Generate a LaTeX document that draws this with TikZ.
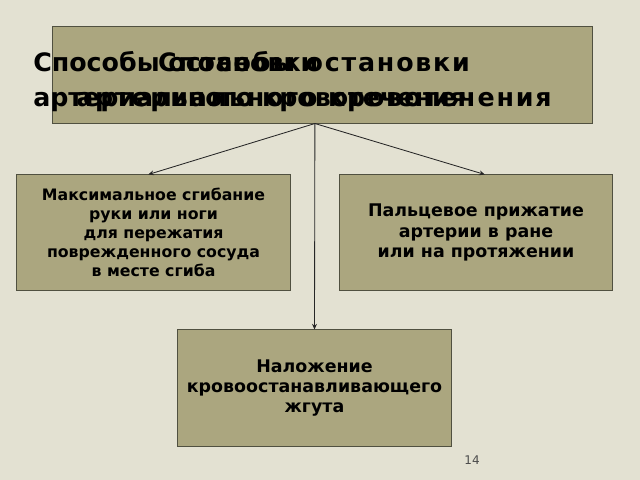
\documentclass[tikz,border=0pt]{standalone}
\usepackage{fontspec}
\setmainfont{DejaVu Sans}
\newfontfamily\spacedfont[LetterSpace=7]{DejaVu Sans}
\usetikzlibrary{arrows.meta}
\definecolor{slidebg}{RGB}{227,225,210}
\definecolor{boxfill}{RGB}{171,166,127}
\definecolor{boxline}{RGB}{80,80,64}
\begin{document}
\begin{tikzpicture}[x=0.025cm, y=-0.025cm,
        block/.style={draw=boxline, line width=0.7pt, fill=boxfill, align=center, inner sep=0pt},
        heading/.style={inner sep=0pt, font=\fontsize{18}{24.9}\selectfont\bfseries},
        link/.style={-{Stealth[length=4pt, width=3.5pt]}, line width=0.6pt, black!85}]
        \useasboundingbox [fill=slidebg] (0,0) rectangle (640,480);
        \node [block, minimum width=13.475cm, minimum height=2.4cm] (title) at (322.5,75) {};
        % the slide prints its heading twice, shifted
        \node [heading, anchor=north west, align=left] (titleA) at (33,51) {Способы остановки\\артериального кровотечения};
        \node [heading, anchor=north, align=center, font=\spacedfont\fontsize{18}{24.9}\selectfont\bfseries] (titleB) at (314,51) {Способы остановки\\артериального кровотечения};
        \node [block, minimum width=6.825cm, minimum height=2.875cm, font=\fontsize{11.2}{13.5}\selectfont\bfseries] (left) at (153.5,232.5) {Максимальное сгибание\\руки или ноги\\для пережатия\\поврежденного сосуда\\в месте сгиба};
        \node [block, minimum width=6.8cm, minimum height=2.875cm, font=\fontsize{12.4}{14.6}\selectfont\bfseries] (right) at (476,232.5) {Пальцевое прижатие\\артерии в ране\\или на протяжении};
        \node [block, minimum width=6.825cm, minimum height=2.9cm, font=\fontsize{12.4}{14.5}\selectfont\bfseries] (bottom) at (314.5,388) {Наложение\\кровоостанавливающего\\жгута};
        \node [font=\fontsize{8.5}{10}\selectfont, text=black!70] (page) at (472,460) {14};
        \coordinate (hub) at ([xshift=-0.19cm]title.south);
        \draw [link] (hub) -- ([xshift=-0.13cm]left.north);
        \draw [link] (hub) -- ([xshift=0.22cm]right.north);
        \draw [link] (hub) -- (bottom.north);
    \end{tikzpicture}
\end{document}
